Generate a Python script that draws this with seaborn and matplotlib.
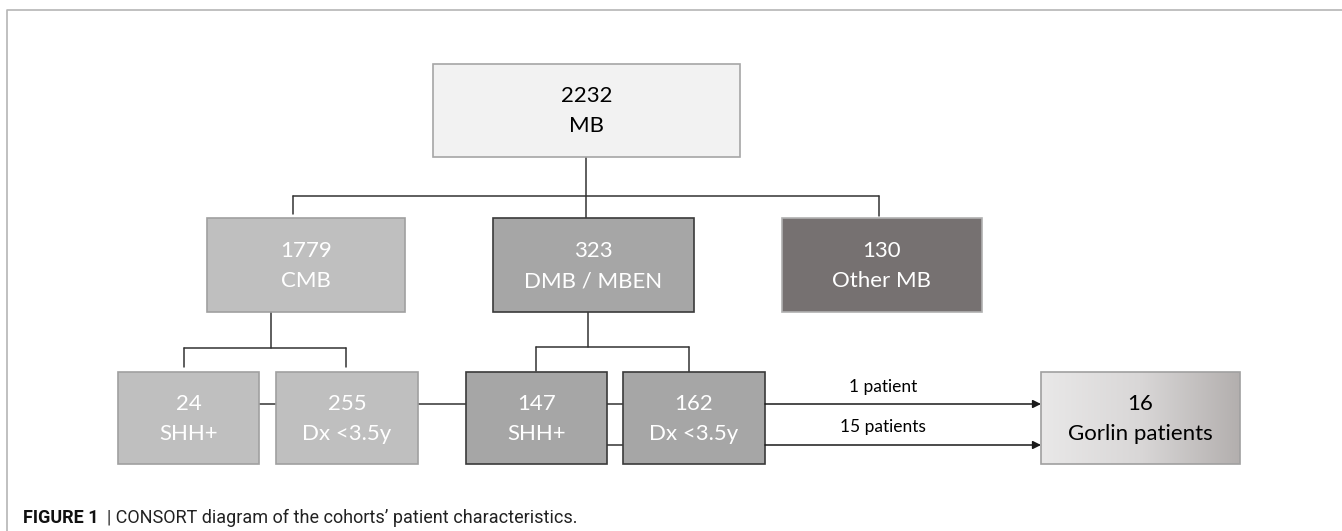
import numpy as np
import matplotlib
matplotlib.use("Agg")
import matplotlib.pyplot as plt
import seaborn as sns
from matplotlib.patches import Rectangle

sns.set_theme(style="white")
plt.rcParams["font.family"] = ["Lato", "DejaVu Sans"]

# flowchart content
counts = ["2232", "1779", "323", "130", "24", "255", "147", "162", "16"]
groups = ["MB", "CMB", "DMB / MBEN", "Other MB", "SHH+", "Dx <3.5y", "SHH+", "Dx <3.5y", "Gorlin patients"]
arrow_labels = ["1 patient", "15 patients"]
caption_head = "FIGURE 1"
caption_text = "| CONSORT diagram of the cohorts\u2019 patient characteristics."

# layout (pixel space, y down)
boxes = [(433, 64, 740, 157), (207, 218, 405, 312), (493, 218, 694, 312), (782, 218, 982, 312),
         (118, 372, 259, 464), (276, 372, 418, 464), (466, 372, 607, 464), (623, 372, 765, 464),
         (1041, 372, 1240, 464)]
fills = ["#f2f2f2", "#bfbfbf", "#a6a6a6", "#767171", "#bfbfbf", "#bfbfbf", "#a6a6a6", "#a6a6a6", None]
edges = ["#a6a6a6", "#a0a0a0", "#3a3a3a", "#b0b0b0", "#a0a0a0", "#a0a0a0", "#3a3a3a", "#3a3a3a", "#a0a0a0"]
txtcol = ["black", "white", "white", "white", "white", "white", "white", "white", "black"]

lines = [
    [(586, 157), (586, 218)], [(293, 196), (879, 196)], [(293, 196), (293, 214)], [(879, 196), (879, 216)],
    [(271, 312), (271, 348)], [(184, 348), (346, 348)], [(184, 348), (184, 367)], [(346, 348), (346, 367)],
    [(588, 312), (588, 347)], [(536, 347), (689, 347)], [(536, 347), (536, 371)], [(689, 347), (689, 372)],
    [(259, 404), (276, 404)], [(418, 404), (466, 404)], [(607, 404), (623, 404)], [(607, 445), (623, 445)],
]
arrows = [[(765, 404), (1041, 404)], [(765, 445), (1041, 445)]]
label_pos = [(883, 387), (883, 427)]

W, H = 1342, 531
fig = plt.figure(figsize=(W / 100, H / 100), dpi=100)
ax = fig.add_axes([0, 0, 1, 1])
ax.set_xlim(0, W)
ax.set_ylim(H, 0)
ax.axis("off")

# figure frame (left and top rules)
ax.plot([7, 7, W], [H, 10, 10], color="#b5b5b5", lw=1.2, solid_capstyle="butt")

for (x0, y0, x1, y1), fc, ec, tc, n, g in zip(boxes, fills, edges, txtcol, counts, groups):
    if fc is None:
        grad = np.linspace(0, 1, 256).reshape(1, -1)
        cmap = matplotlib.colors.LinearSegmentedColormap.from_list("g", ["#e9e8e8", "#d9d7d7", "#b3afae"])
        ax.imshow(grad, extent=(x0, x1, y1, y0), cmap=cmap, aspect="auto", zorder=2)
        ax.add_patch(Rectangle((x0, y0), x1 - x0, y1 - y0, fc="none", ec=ec, lw=1.2, zorder=3))
    else:
        ax.add_patch(Rectangle((x0, y0), x1 - x0, y1 - y0, fc=fc, ec=ec, lw=1.2, zorder=3))
    cx, cy = (x0 + x1) / 2, (y0 + y1) / 2
    ax.text(cx, cy - 14, n, ha="center", va="center", color=tc, fontsize=16, zorder=4)
    ax.text(cx, cy + 16, g, ha="center", va="center", color=tc, fontsize=16, zorder=4)

for seg in lines:
    (xa, ya), (xb, yb) = seg
    ax.plot([xa, xb], [ya, yb], color="#333333", lw=1.1, zorder=1)

for ((xa, ya), (xb, yb)), lab, (lx, ly) in zip(arrows, arrow_labels, label_pos):
    ax.annotate("", xy=(xb, yb), xytext=(xa, ya),
                arrowprops=dict(arrowstyle="-|>", color="#1a1a1a", lw=1.1, mutation_scale=12, shrinkA=0, shrinkB=0))
    ax.text(lx, ly, lab, ha="center", va="center", fontsize=12.5, color="black")

# caption
head = ax.text(23, 518, caption_head, ha="left", va="center", fontsize=13, fontweight="bold",
               family=["Roboto", "DejaVu Sans"], color="#111111")
fig.canvas.draw()
bb = head.get_window_extent()
x_end = ax.transData.inverted().transform((bb.x1, bb.y0))[0]
ax.text(x_end + 8, 518, caption_text, ha="left", va="center", fontsize=13,
        family=["Roboto", "DejaVu Sans"], color="#222222")

fig.savefig("out.png", dpi=100)
